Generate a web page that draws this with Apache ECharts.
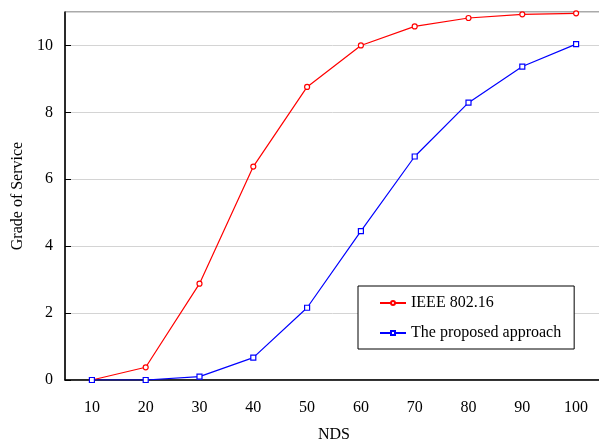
<!DOCTYPE html>
<html>
<head>
<meta charset="utf-8">
<script src="https://cdn.jsdelivr.net/npm/echarts@6/dist/echarts.min.js"></script>
<style>html,body{margin:0;padding:0;background:#fff}#c{width:599px;height:439px}</style>
</head>
<body>
<div id="c"></div>
<script>
const categories = ['10','20','30','40','50','60','70','80','90','100'];
const ieee = [0, 0.38, 2.88, 6.38, 8.76, 10.0, 10.57, 10.82, 10.93, 10.96];
const proposed = [0, 0, 0.1, 0.67, 2.16, 4.45, 6.68, 8.29, 9.37, 10.04];
const seriesNames = ['IEEE 802.16', 'The proposed approach'];

const font = 'Liberation Serif, Times New Roman, serif';
const chart = echarts.init(document.getElementById('c'));
chart.setOption({
  animation: false,
  backgroundColor: '#fff',
  textStyle: { fontFamily: font },
  grid: { left: 65, right: -4, top: 12, bottom: 59, containLabel: false, outerBoundsMode: 'none', show: true, borderColor: '#555', borderWidth: 1 },
  legend: {
    orient: 'vertical',
    left: 358, top: 286,
    padding: [9, 13, 8, 21],
    itemGap: 14,
    itemWidth: 26, itemHeight: 5,
    borderColor: '#000', borderWidth: 1, backgroundColor: '#fff',
    borderRadius: 0,
    textStyle: { fontFamily: font, fontSize: 16, color: '#000' },
    data: seriesNames
  },
  xAxis: {
    type: 'category',
    data: categories,
    boundaryGap: true,
    name: 'NDS',
    nameLocation: 'middle',
    nameGap: 47,
    nameTextStyle: { fontFamily: font, fontSize: 16, color: '#000' },
    axisLine: { lineStyle: { color: '#000', width: 1.5 } },
    axisTick: { inside: true, length: 6, lineStyle: { color: '#000' } },
    axisLabel: { fontFamily: font, fontSize: 16, color: '#000', margin: 20 },
    splitLine: { show: false }
  },
  yAxis: {
    type: 'value',
    min: 0, max: 11, interval: 2,
    name: 'Grade of Service',
    nameLocation: 'middle',
    nameGap: 38,
    nameTextStyle: { fontFamily: font, fontSize: 16, color: '#000' },
    axisLine: { show: true, lineStyle: { color: '#000', width: 1.5 } },
    axisTick: { show: true, inside: true, length: 6, lineStyle: { color: '#000' } },
    axisLabel: { fontFamily: font, fontSize: 16, color: '#000', margin: 12, showMaxLabel: false },
    splitLine: { show: true, lineStyle: { color: '#d4d4d4', width: 1 } }
  },
  series: [
    {
      name: seriesNames[0], type: 'line', data: ieee,
      symbol: 'circle', symbolSize: 5,
      itemStyle: { color: '#fff', borderColor: '#ff0000', borderWidth: 1.2 },
      lineStyle: { color: '#ff0000', width: 1.2 },
      color: '#ff0000'
    },
    {
      name: seriesNames[1], type: 'line', data: proposed,
      symbol: 'rect', symbolSize: 5,
      itemStyle: { color: '#fff', borderColor: '#0000ff', borderWidth: 1.2 },
      lineStyle: { color: '#0000ff', width: 1.2 },
      color: '#0000ff'
    }
  ]
});
</script>
</body>
</html>
